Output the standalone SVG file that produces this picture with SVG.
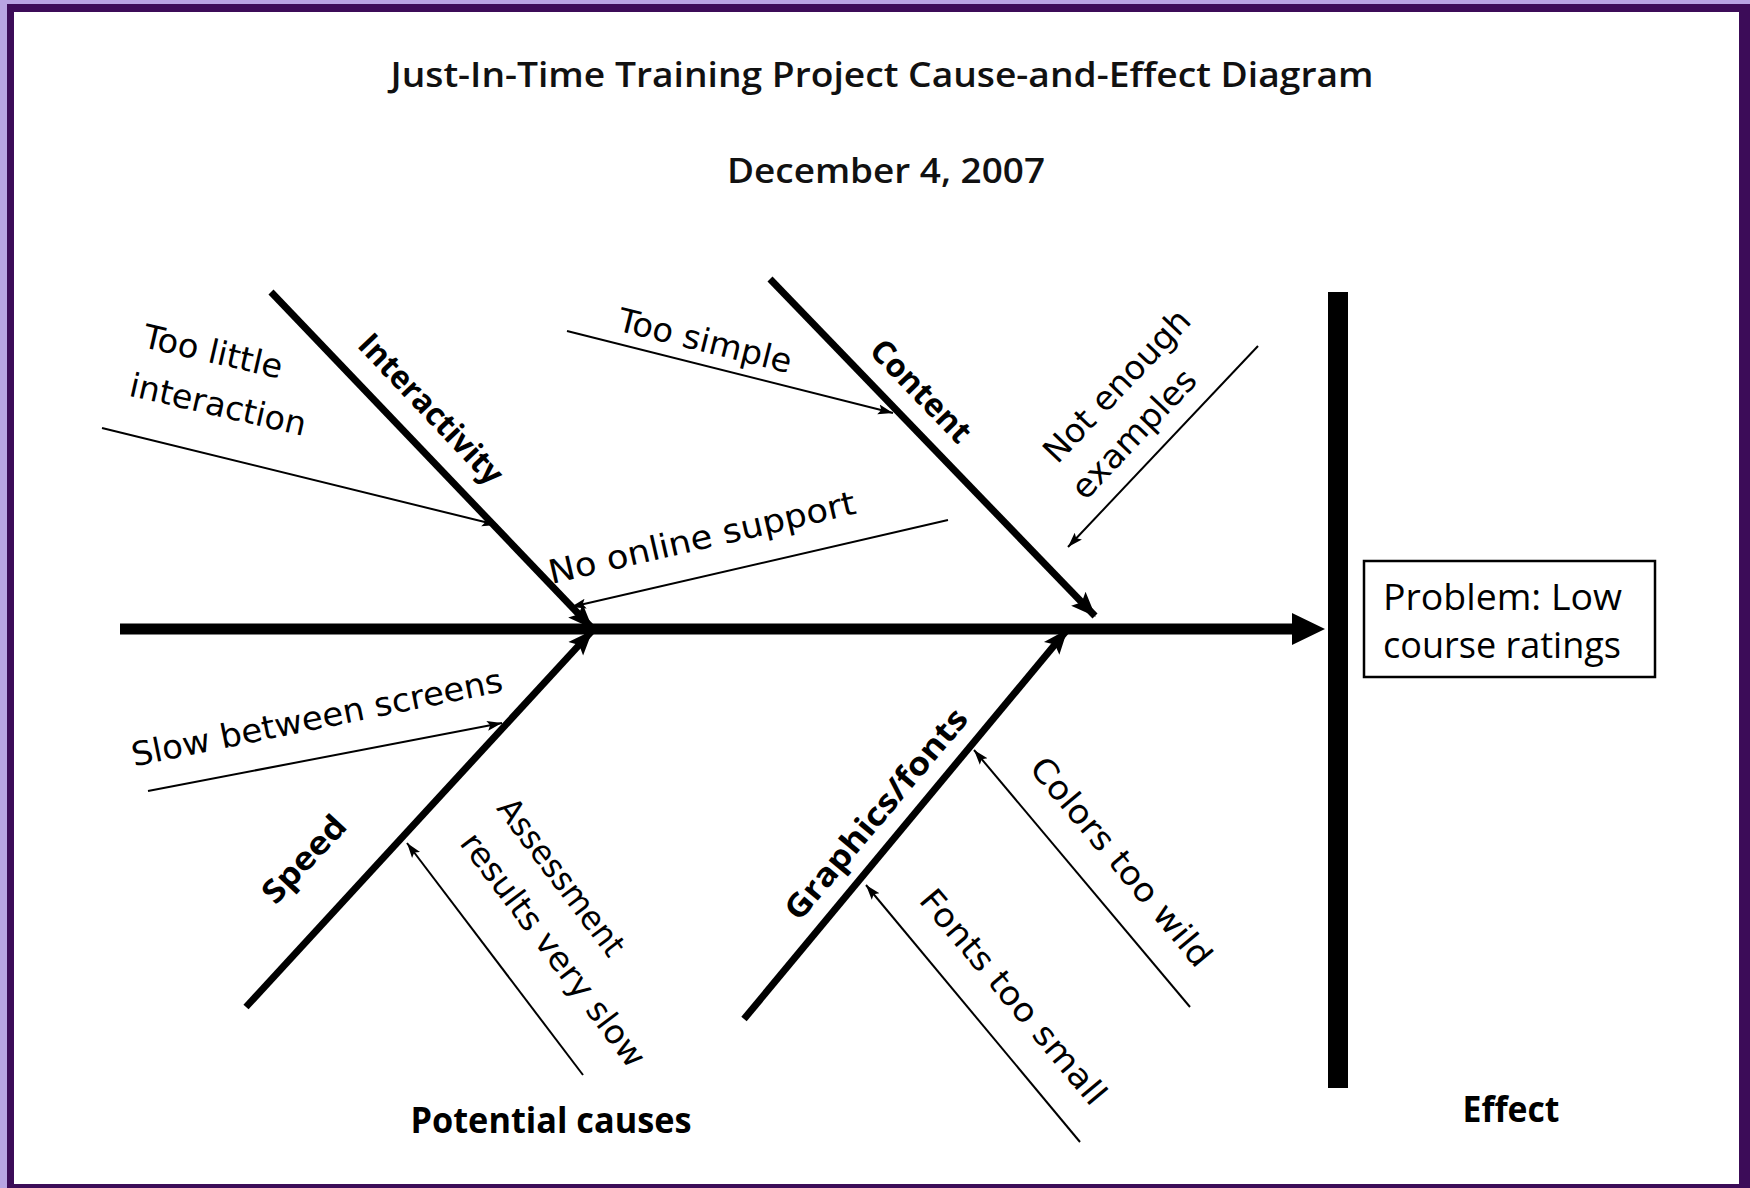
<svg xmlns="http://www.w3.org/2000/svg" width="1750" height="1188" viewBox="0 0 1750 1188">
<style>
.title{font-family:"Open Sans","Liberation Sans",sans-serif;font-weight:600;font-size:35px;fill:#111}
.lbl{font-family:"Open Sans","Liberation Sans",sans-serif;font-weight:700;font-size:36px;fill:#000}
.br{font-family:"Open Sans","Liberation Sans",sans-serif;font-weight:700;font-size:32px;fill:#000}
.cause{font-family:"DejaVu Sans","Liberation Sans",sans-serif;font-size:33px;fill:#000}
.eff{font-family:"Open Sans","Liberation Sans",sans-serif;font-size:36px;fill:#000}
.thick{stroke:#000;stroke-width:7;fill:none}
.thin{stroke:#000;stroke-width:2;fill:none}
</style>
<defs>
<marker id="bigA" markerUnits="userSpaceOnUse" markerWidth="26" markerHeight="22" refX="24" refY="11" orient="auto">
<path d="M0,1 L25,11 L0,21 L5,11 z" fill="#000"/>
</marker>
<marker id="thinA" markerUnits="userSpaceOnUse" markerWidth="16" markerHeight="12" refX="15" refY="6" orient="auto">
<path d="M0,1 L15,6 L0,11 L3,6 z" fill="#000"/>
</marker>
</defs>
<rect x="0" y="0" width="1750" height="1188" fill="#b8a4e2"/>
<rect x="7" y="4" width="1743" height="1184" fill="#3c0c58"/>
<rect x="14" y="12" width="1725" height="1172" fill="#ffffff"/>

<g id="title">
<text class="title" x="882" y="87" text-anchor="middle" textLength="983" lengthAdjust="spacingAndGlyphs">Just-In-Time Training Project Cause-and-Effect Diagram</text>
<text class="title" x="886" y="183" text-anchor="middle" textLength="318" lengthAdjust="spacingAndGlyphs">December 4, 2007</text>
</g>

<g id="connectors">
<line x1="120" y1="629" x2="1296" y2="629" stroke="#000" stroke-width="11"/>
<polygon points="1292,613 1325,629 1292,645" fill="#000"/>
<line class="thick" x1="271" y1="292" x2="592" y2="628" marker-end="url(#bigA)"/>
<line class="thick" x1="770" y1="279" x2="1095" y2="616" marker-end="url(#bigA)"/>
<line class="thick" x1="246" y1="1007" x2="592" y2="631" marker-end="url(#bigA)"/>
<line class="thick" x1="744" y1="1019" x2="1067" y2="630" marker-end="url(#bigA)"/>
<line class="thin" x1="102" y1="428" x2="497" y2="525" marker-end="url(#thinA)"/>
<line class="thin" x1="567" y1="331" x2="893" y2="413" marker-end="url(#thinA)"/>
<line class="thin" x1="1258" y1="346" x2="1068" y2="547" marker-end="url(#thinA)"/>
<line class="thin" x1="948" y1="520" x2="571" y2="607" marker-end="url(#thinA)"/>
<line class="thin" x1="148" y1="791" x2="502" y2="723" marker-end="url(#thinA)"/>
<line class="thin" x1="583" y1="1075" x2="407" y2="843" marker-end="url(#thinA)"/>
<line class="thin" x1="1190" y1="1007" x2="974" y2="750" marker-end="url(#thinA)"/>
<line class="thin" x1="1080" y1="1142" x2="866" y2="885" marker-end="url(#thinA)"/>
</g>

<g id="effect-bar">
<rect x="1328" y="292" width="20" height="796" fill="#000"/>
</g>

<g id="problem">
<rect x="1364" y="561" width="291" height="116" fill="#fff" stroke="#000" stroke-width="2.5"/>
<text class="eff" x="1383" y="610" textLength="239" lengthAdjust="spacingAndGlyphs">Problem: Low</text>
<text class="eff" x="1383" y="658" textLength="238" lengthAdjust="spacingAndGlyphs">course ratings</text>
</g>

<g id="branch-interactivity">
<text class="br" transform="translate(431,409) rotate(46.5)" text-anchor="middle" y="11" textLength="194" lengthAdjust="spacingAndGlyphs">Interactivity</text>
</g>
<g id="branch-content">
<text class="br" transform="translate(921,391) rotate(46)" text-anchor="middle" y="11" textLength="130" lengthAdjust="spacingAndGlyphs">Content</text>
</g>
<g id="branch-speed">
<text class="br" transform="translate(304,859) rotate(-47)" text-anchor="middle" y="11" textLength="107" lengthAdjust="spacingAndGlyphs">Speed</text>
</g>
<g id="branch-graphics">
<text class="br" transform="translate(876,814) rotate(-50)" text-anchor="middle" y="11" textLength="265" lengthAdjust="spacingAndGlyphs">Graphics/fonts</text>
</g>

<g id="cause-too-little-interaction">
<text class="cause" transform="translate(213,352) rotate(13)" text-anchor="middle" y="11" textLength="142" lengthAdjust="spacingAndGlyphs">Too little</text>
<text class="cause" transform="translate(218,405) rotate(13)" text-anchor="middle" y="11" textLength="180" lengthAdjust="spacingAndGlyphs">interaction</text>
</g>
<g id="cause-too-simple">
<text class="cause" transform="translate(705,341) rotate(14)" text-anchor="middle" y="11" textLength="178" lengthAdjust="spacingAndGlyphs">Too simple</text>
</g>
<g id="cause-not-enough-examples">
<text class="cause" transform="translate(1117,386) rotate(-46.5)" text-anchor="middle" y="11" textLength="197" lengthAdjust="spacingAndGlyphs">Not enough</text>
<text class="cause" transform="translate(1134,434) rotate(-46.5)" text-anchor="middle" y="11" textLength="165" lengthAdjust="spacingAndGlyphs">examples</text>
</g>
<g id="cause-no-online-support">
<text class="cause" transform="translate(702,538) rotate(-13)" text-anchor="middle" y="11" textLength="314" lengthAdjust="spacingAndGlyphs">No online support</text>
</g>
<g id="cause-slow-between-screens">
<text class="cause" transform="translate(317,718) rotate(-11.5)" text-anchor="middle" y="11" textLength="378" lengthAdjust="spacingAndGlyphs">Slow between screens</text>
</g>
<g id="cause-assessment">
<text class="cause" transform="translate(561,877) rotate(53)" text-anchor="middle" y="11" textLength="188" lengthAdjust="spacingAndGlyphs">Assessment</text>
<text class="cause" transform="translate(553,950) rotate(53)" text-anchor="middle" y="11" textLength="284" lengthAdjust="spacingAndGlyphs">results very slow</text>
</g>
<g id="cause-colors-too-wild">
<text class="cause" transform="translate(1121,862) rotate(50)" text-anchor="middle" y="11" textLength="262" lengthAdjust="spacingAndGlyphs">Colors too wild</text>
</g>
<g id="cause-fonts-too-small">
<text class="cause" transform="translate(1013,997) rotate(50)" text-anchor="middle" y="11" textLength="270" lengthAdjust="spacingAndGlyphs">Fonts too small</text>
</g>

<g id="label-potential-causes">
<text class="lbl" x="551" y="1133" text-anchor="middle" textLength="281" lengthAdjust="spacingAndGlyphs">Potential causes</text>
</g>
<g id="label-effect">
<text class="lbl" x="1511" y="1122" text-anchor="middle" textLength="97" lengthAdjust="spacingAndGlyphs">Effect</text>
</g>
</svg>
